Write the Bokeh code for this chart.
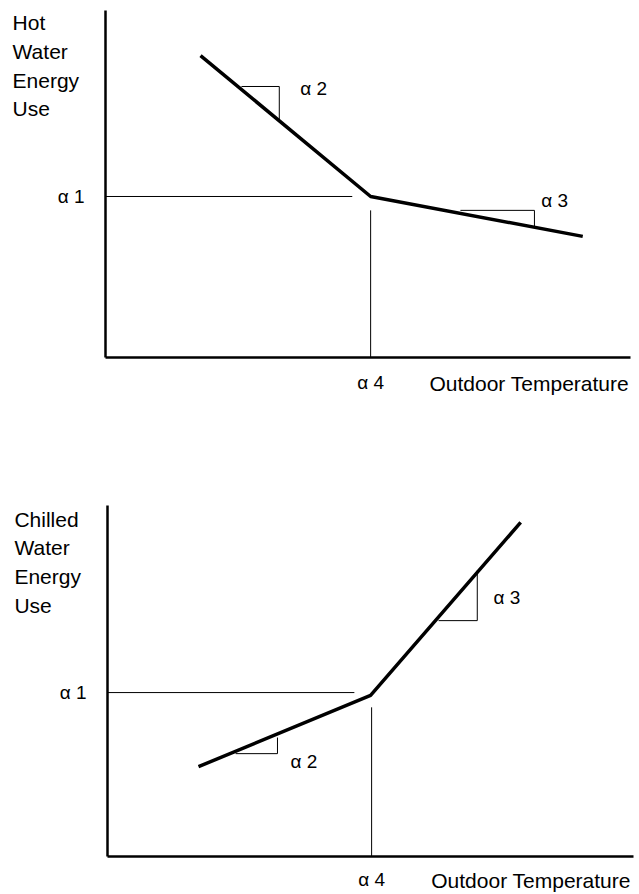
from bokeh.plotting import figure
from bokeh.models import Range1d, FixedTicker, Label, LinearAxis
from bokeh.layouts import column
from bokeh.embed import file_html
from bokeh.resources import INLINE

FONT = "Liberation Sans"

# ---- Hot water panel (schematic units: axes run 0..100) ----
hot_x = [18.1, 50.5, 90.9]
hot_y = [87.0, 46.4, 34.9]
hot_alpha1 = 46.4
hot_alpha4 = 50.5
hot_a1_end = 47.0          # end of the alpha1 guide line
hot_a4_top = 42.4          # top of the alpha4 guide line
hot_tri2_x = [25.9, 33.1, 33.1]
hot_tri2_y = [78.1, 78.1, 68.3]
hot_tri3_x = [67.6, 81.7, 81.7]
hot_tri3_y = [42.4, 42.4, 37.8]
hot_lab2 = (37.1, 77.5)
hot_lab3 = (83.0, 45.2)
hot_title = "Hot\nWater\nEnergy\nUse"
hot_title_pos = (-17.7, 99.8)
hot_xlab_pos = (61.7, -7.5)
hot_xrange = (-20.0, 101.71)
hot_yrange = (-23.92, 102.88)
hot_xbounds = (0, 100)

# ---- Chilled water panel ----
chw_x = [17.4, 50.3, 79.0]
chw_y = [25.6, 45.9, 95.2]
chw_alpha1 = 46.7
chw_alpha4 = 50.5
chw_a1_end = 47.2
chw_a4_top = 42.5
chw_tri2_x = [24.5, 32.5, 32.5]
chw_tri2_y = [29.3, 29.3, 33.9]
chw_tri3_x = [63.3, 70.7, 70.7]
chw_tri3_y = [67.2, 67.2, 81.5]
chw_lab2 = (35.0, 27.1)
chw_lab3 = (73.8, 73.8)
chw_title = "Chilled\nWater\nEnergy\nUse"
chw_title_pos = (-17.8, 99.4)
chw_xlab_pos = (61.9, -6.8)
chw_xrange = (-20.46, 101.72)
chw_yrange = (-10.83, 118.52)
chw_xbounds = (0, 100.5)


def panel(height, xr, yr, xb, xs, ys, a1, a4, a1_end, a4_top,
          t2x, t2y, t3x, t3y, lab2, lab3, title, title_pos, xlab_pos, std_x):
    p = figure(width=639, height=height, output_backend="svg", toolbar_location=None,
               x_range=Range1d(*xr), y_range=Range1d(*yr),
               x_axis_location=None, y_axis_location=None,
               min_border=0)
    p.outline_line_color = None
    p.xgrid.visible = False
    p.ygrid.visible = False
    p.background_fill_color = "white"
    p.border_fill_color = "white"

    yax = LinearAxis(fixed_location=0, bounds=(0, 100), ticker=FixedTicker(ticks=[a1]),
                     major_label_overrides={a1: "\u03b1 1"}, major_label_standoff=21)
    xax = LinearAxis(fixed_location=0, bounds=xb, ticker=FixedTicker(ticks=[a4]),
                     major_label_overrides={a4: "\u03b1 4"}, major_label_standoff=std_x)
    for ax in (xax, yax):
        ax.axis_line_width = 2.5
        ax.axis_line_color = "black"
        ax.major_tick_line_color = None
        ax.minor_tick_line_color = None
        ax.major_tick_in = 0
        ax.major_tick_out = 0
        ax.minor_tick_in = 0
        ax.minor_tick_out = 0
        ax.major_label_text_font = FONT
        ax.major_label_text_font_size = "19px"
        ax.major_label_text_color = "black"
    p.add_layout(yax, "left")
    p.add_layout(xax, "below")

    # guide lines
    p.line([0, a1_end], [a1, a1], line_color="black", line_width=1)
    p.line([a4, a4], [0, a4_top], line_color="black", line_width=1)
    # slope triangles
    p.line(t2x, t2y, line_color="black", line_width=1)
    p.line(t3x, t3y, line_color="black", line_width=1)
    # piecewise model line
    p.line(xs, ys, line_color="black", line_width=3.5, line_join="round")

    for (lx, ly), txt in ((lab2, "\u03b1 2"), (lab3, "\u03b1 3")):
        p.add_layout(Label(x=lx, y=ly, text=txt, text_font=FONT, text_font_size="19px",
                           text_baseline="middle", text_align="left", text_color="black"))
    p.add_layout(Label(x=title_pos[0], y=title_pos[1], text=title, text_font=FONT,
                       text_font_size="21px", text_baseline="top", text_align="left",
                       text_line_height=1.25, text_color="black"))
    p.add_layout(Label(x=xlab_pos[0], y=xlab_pos[1], text="Outdoor Temperature",
                       text_font=FONT, text_font_size="21px", text_baseline="middle",
                       text_align="left", text_color="black"))
    return p


p1 = panel(440, hot_xrange, hot_yrange, hot_xbounds, hot_x, hot_y, hot_alpha1, hot_alpha4,
           hot_a1_end, hot_a4_top, hot_tri2_x, hot_tri2_y, hot_tri3_x, hot_tri3_y,
           hot_lab2, hot_lab3, hot_title, hot_title_pos, hot_xlab_pos, 15)
p2 = panel(454, chw_xrange, chw_yrange, chw_xbounds, chw_x, chw_y, chw_alpha1, chw_alpha4,
           chw_a1_end, chw_a4_top, chw_tri2_x, chw_tri2_y, chw_tri3_x, chw_tri3_y,
           chw_lab2, chw_lab3, chw_title, chw_title_pos, chw_xlab_pos, 13)

layout = column(p1, p2, spacing=0)
open("out.html", "w").write(file_html(layout, INLINE))
